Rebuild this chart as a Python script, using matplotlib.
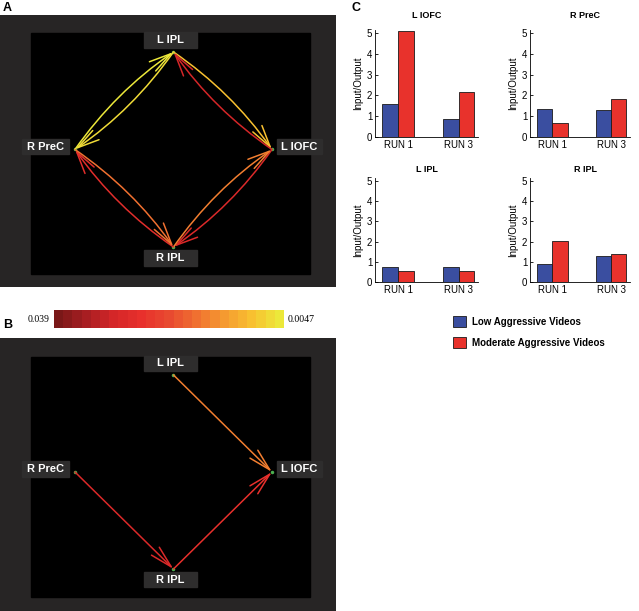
import numpy as np
import matplotlib
matplotlib.use('Agg')
import matplotlib.pyplot as plt
from matplotlib.patches import Rectangle, FancyArrowPatch, Patch
from matplotlib.colors import LinearSegmentedColormap, Normalize
from matplotlib.cm import ScalarMappable

plt.rcParams['font.family'] = ['Liberation Sans', 'DejaVu Sans']

# ---- data ----
nodes = ['L IPL', 'R PreC', 'L IOFC', 'R IPL']
node_xy = {'L IPL': (0, 1), 'R PreC': (-1, 0), 'L IOFC': (1, 0), 'R IPL': (0, -1)}

# panel A: all directed connections (source, target, strength)
edges_a = [('R PreC', 'L IPL', 0.0055),
           ('L IPL', 'R PreC', 0.0065),
           ('L IPL', 'L IOFC', 0.0100),
           ('L IOFC', 'L IPL', 0.0300),
           ('L IOFC', 'R IPL', 0.0285),
           ('R IPL', 'L IOFC', 0.0165),
           ('R IPL', 'R PreC', 0.0275),
           ('R PreC', 'R IPL', 0.0175)]
# panel B: significant connections
edges_b = [('L IPL', 'L IOFC', 0.0160),
           ('R PreC', 'R IPL', 0.0285),
           ('R IPL', 'L IOFC', 0.0260)]

vmin, vmax = 0.0047, 0.039

# panel C
runs = ['RUN 1', 'RUN 3']
regions = ['L IOFC', 'R PreC', 'L IPL', 'R IPL']
low_vals = {'L IOFC': [1.6, 0.88], 'R PreC': [1.35, 1.3],
            'L IPL': [0.75, 0.75], 'R IPL': [0.9, 1.28]}
mod_vals = {'L IOFC': [5.1, 2.15], 'R PreC': [0.65, 1.85],
            'L IPL': [0.55, 0.55], 'R IPL': [2.05, 1.4]}
legend_labels = ['Low Aggressive Videos', 'Moderate Aggressive Videos']

W, H = 639, 611
fig = plt.figure(figsize=(W / 100, H / 100), dpi=100)


def px_axes(x0, y0, x1, y1):
    return fig.add_axes([x0 / W, 1 - y1 / H, (x1 - x0) / W, (y1 - y0) / H])


# colormap: yellow for small values, dark red for large
cmap = LinearSegmentedColormap.from_list(
    'conn', ['#ece83a', '#f8c030', '#f59a30', '#f07030', '#e84a30',
             '#e8302c', '#d42628', '#a81e22', '#7a1818'], N=25)
norm = Normalize(vmin, vmax)

frame_col = '#272525'
box_col = '#2e2d2d'
box_w = {'L IPL': 0.54, 'R PreC': 0.47, 'L IOFC': 0.46, 'R IPL': 0.54}
label_xy = {'L IPL': (-0.03, 1.12), 'R PreC': (-1.30, 0.03),
            'L IOFC': (1.28, 0.03), 'R IPL': (-0.03, -1.11)}


def draw_network(ax, edges, rad, ylim, black_y):
    ax.set_facecolor(frame_col)
    ax.set_xlim(-1.761, 1.650)
    ax.set_ylim(*ylim)
    for s in ax.spines.values():
        s.set_visible(False)
    ax.set_xticks([])
    ax.set_yticks([])
    ax.add_patch(Rectangle((-1.447, black_y[0]), 1.386 + 1.447,
                           black_y[1] - black_y[0], color='black', zorder=0))
    for name in nodes:
        lx, ly = label_xy[name]
        w = box_w[name]
        ax.add_patch(Rectangle((lx - w / 2, ly - 0.08), w, 0.16,
                               color=box_col, zorder=1))
        ax.text(lx, ly, name, color='white', fontsize=8, fontweight='bold',
                ha='center', va='center', zorder=2)
        ax.plot(*node_xy[name], 'o', color='#4caf50', ms=1.5, zorder=3)
    for src, dst, v in edges:
        arr = FancyArrowPatch(node_xy[src], node_xy[dst],
                              connectionstyle='arc3,rad=%s' % rad,
                              arrowstyle='->,head_length=1.6,head_width=0.4',
                              mutation_scale=10, color=cmap(norm(v)),
                              lw=1.1, shrinkA=0, shrinkB=0, zorder=4)
        ax.add_patch(arr)


# ---- panel A ----
ax_a = px_axes(0, 15, 336, 287)
draw_network(ax_a, edges_a, -0.09, (-1.410, 1.379), (-1.277, 1.195))
fig.text(3 / W, 1 - 8 / H, 'A', fontsize=9, fontweight='bold', va='center')

# ---- colorbar ----
cax = px_axes(54, 310, 284, 328)
cb = fig.colorbar(ScalarMappable(norm=norm, cmap=cmap), cax=cax,
                  orientation='horizontal')
cax.invert_xaxis()
cax.set_xticks([])
cb.outline.set_visible(False)
fig.text(50 / W, 1 - 319 / H, '0.039', family='Liberation Serif',
         fontsize=7, ha='right', va='center')
fig.text(288 / W, 1 - 319 / H, '0.0047', family='Liberation Serif',
         fontsize=7, ha='left', va='center')

# ---- panel B ----
ax_b = px_axes(0, 338, 336, 611)
draw_network(ax_b, edges_b, 0.0, (-1.433, 1.381), (-1.289, 1.186))
fig.text(3 / W, 1 - 325 / H, 'B', fontsize=9, fontweight='bold', va='center')

# ---- panel C ----
fig.text(352 / W, 1 - 8 / H, 'C', fontsize=9, fontweight='bold', va='center')
blue = '#3a4ea0'
red = '#e8322c'
boxes = {'L IOFC': (375, 30, 478, 137), 'R PreC': (530, 30, 630, 137),
         'L IPL': (375, 178, 478, 282), 'R IPL': (530, 178, 630, 282)}
title_pos = {'L IOFC': (427, 16), 'R PreC': (585, 16),
             'L IPL': (427, 169), 'R IPL': (585, 169)}
x = np.arange(len(runs))
bw = 0.26
for reg in regions:
    ax = px_axes(*boxes[reg])
    ax.bar(x - bw / 2, low_vals[reg], bw, color=blue, edgecolor='#1a1a1a', lw=0.6)
    ax.bar(x + bw / 2, mod_vals[reg], bw, color=red, edgecolor='#1a1a1a', lw=0.6)
    ax.set_xlim(-0.38, 1.32)
    ax.set_ylim(0, 5.15)
    ax.set_yticks(range(6))
    ax.set_xticks(x)
    ax.set_xticklabels(runs)
    ax.tick_params(labelsize=7, direction='in', length=2, width=0.6, pad=2)
    ax.tick_params(axis='x', length=0)
    ax.spines['top'].set_visible(False)
    ax.spines['right'].set_visible(False)
    ax.spines['left'].set_linewidth(0.6)
    ax.spines['bottom'].set_linewidth(0.6)
    ax.set_ylabel('Input/Output', fontsize=7, labelpad=3)
    tx, ty = title_pos[reg]
    fig.text(tx / W, 1 - ty / H, reg, fontsize=6.5, fontweight='bold',
             ha='center', va='center')

handles = [Patch(facecolor=blue, edgecolor='#1a1a1a', lw=0.6),
           Patch(facecolor=red, edgecolor='#1a1a1a', lw=0.6)]
fig.legend(handles, legend_labels, loc='upper left',
           bbox_to_anchor=(444 / W, 1 - 307 / H), frameon=False,
           prop={'size': 7, 'weight': 'bold'}, handlelength=1.4,
           handleheight=1.4, labelspacing=1.0, handletextpad=0.6)

fig.savefig('out.png', dpi=100)
